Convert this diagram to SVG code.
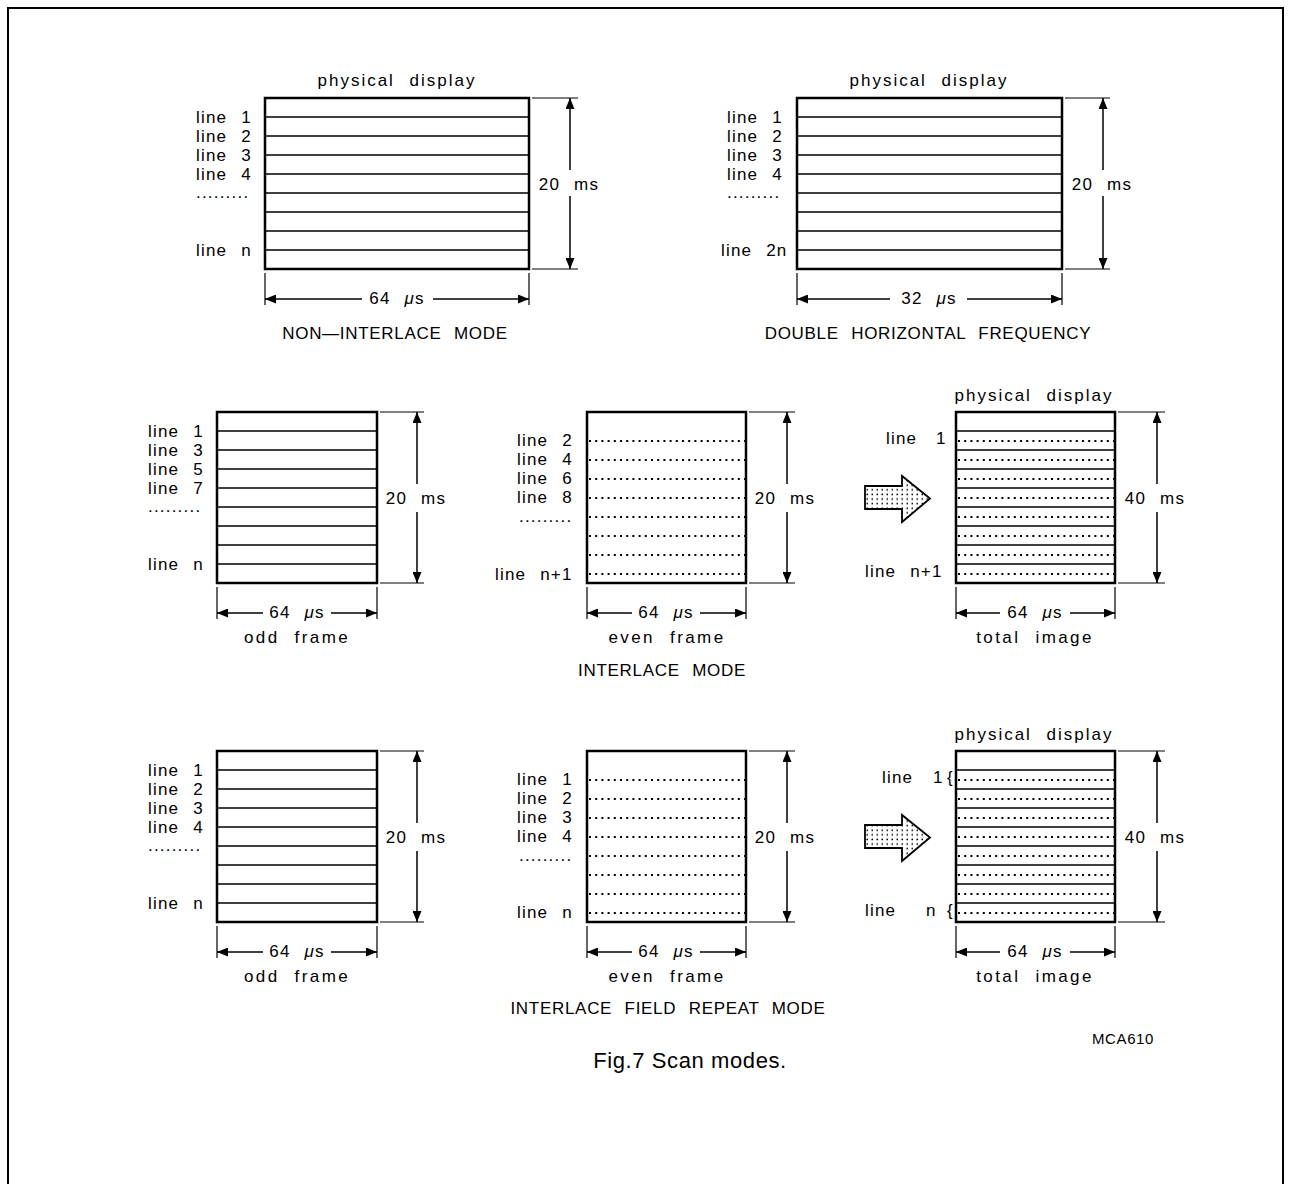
<svg xmlns="http://www.w3.org/2000/svg" width="1290" height="1184" viewBox="0 0 1290 1184">
<style>
text{font-family:"Liberation Sans",Arial,Helvetica,sans-serif;font-size:17px;letter-spacing:1.2px;word-spacing:8px;fill:#000}
.c{text-anchor:middle}
.ttl{letter-spacing:0.7px;word-spacing:7px}
.pd{letter-spacing:2px}
.fr{letter-spacing:2.4px}
.box{fill:none;stroke:#000;stroke-width:2.5}
.ln{stroke:#000;stroke-width:1.5;fill:none}
.dl{stroke:#000;stroke-width:2;stroke-dasharray:2 4.2;fill:none}
.ext{stroke:#000;stroke-width:1.2;fill:none}
.dim{stroke:#000;stroke-width:1.5;fill:none;marker-end:url(#ah)}
.big{fill:url(#dots);stroke:#000;stroke-width:1.8;stroke-linejoin:miter}
.mu{font-style:italic}
</style>
<defs>
<marker id="ah" markerUnits="userSpaceOnUse" markerWidth="11" markerHeight="9" refX="11" refY="4.5" orient="auto">
<path d="M0,0 L11,4.5 L0,9 z" fill="#000"/>
</marker>
<pattern id="dots" width="5" height="4.6" patternUnits="userSpaceOnUse">
<rect x="1.5" y="1.5" width="1.5" height="1.5" fill="#000"/>
</pattern>
</defs>
<rect width="1290" height="1184" fill="#fff"/>
<path d="M8,1184 V8 H1283 V1184" fill="none" stroke="#000" stroke-width="2"/>

<!-- Row 1: non-interlace -->
<g id="non-interlace">
<text class="c pd" x="397" y="86">physical display</text>
<rect class="box" x="265" y="98" width="264" height="171"/>
<path class="ln" d="M265,117H529M265,136H529M265,155H529M265,174H529M265,193H529M265,212H529M265,231H529M265,250H529"/>
<text x="196" y="123">line 1</text>
<text x="196" y="142">line 2</text>
<text x="196" y="161">line 3</text>
<text x="196" y="180">line 4</text>
<text x="196" y="198">.........</text>
<text x="196" y="256">line n</text>
<text class="c ttl" x="395" y="339">NON—INTERLACE MODE</text>
</g>

<g id="double-horizontal">
<text class="c pd" x="929" y="86">physical display</text>
<rect class="box" x="797" y="98" width="265" height="171"/>
<path class="ln" d="M797,117H1062M797,136H1062M797,155H1062M797,174H1062M797,193H1062M797,212H1062M797,231H1062M797,250H1062"/>
<text x="727" y="123">line 1</text>
<text x="727" y="142">line 2</text>
<text x="727" y="161">line 3</text>
<text x="727" y="180">line 4</text>
<text x="727" y="198">.........</text>
<text x="721" y="256">line 2n</text>
<text class="c ttl" x="928" y="339">DOUBLE HORIZONTAL FREQUENCY</text>
</g>

<!-- Row 2: interlace -->
<g id="interlace-odd">
<rect class="box" x="217" y="412" width="160" height="171"/>
<path class="ln" d="M217,431H377M217,450H377M217,469H377M217,488H377M217,507H377M217,526H377M217,545H377M217,564H377"/>
<text x="148" y="437">line 1</text>
<text x="148" y="456">line 3</text>
<text x="148" y="475">line 5</text>
<text x="148" y="494">line 7</text>
<text x="148" y="512">.........</text>
<text x="148" y="570">line n</text>
<text class="c fr" x="297" y="643">odd frame</text>
</g>

<g id="interlace-even">
<rect class="box" x="587" y="412" width="159" height="171"/>
<path class="dl" d="M589,441H745M589,460H745M589,479H745M589,498H745M589,517H745M589,536H745M589,555H745M589,574H745"/>
<text x="517" y="446">line 2</text>
<text x="517" y="465">line 4</text>
<text x="517" y="484">line 6</text>
<text x="517" y="503">line 8</text>
<text x="519" y="522">.........</text>
<text x="495" y="580">line n+1</text>
<text class="c fr" x="667" y="643">even frame</text>
<text class="c ttl" x="662" y="676">INTERLACE MODE</text>
</g>

<g id="interlace-total">
<text class="c pd" x="1034" y="401">physical display</text>
<rect class="box" x="956" y="412" width="159" height="171"/>
<path class="ln" d="M956,431H1115M956,450H1115M956,469H1115M956,488H1115M956,507H1115M956,526H1115M956,545H1115M956,564H1115"/>
<path class="dl" d="M958,441H1114M958,460H1114M958,479H1114M958,498H1114M958,517H1114M958,536H1114M958,555H1114M958,574H1114"/>
<text x="886" y="444">line <tspan x="936">1</tspan></text>
<text x="865" y="577">line n+1</text>
<text class="c fr" x="1035" y="643">total image</text>
</g>

<!-- Row 3: interlace field repeat -->
<g id="repeat-odd">
<rect class="box" x="217" y="751" width="160" height="171"/>
<path class="ln" d="M217,770H377M217,789H377M217,808H377M217,827H377M217,846H377M217,865H377M217,884H377M217,903H377"/>
<text x="148" y="776">line 1</text>
<text x="148" y="795">line 2</text>
<text x="148" y="814">line 3</text>
<text x="148" y="833">line 4</text>
<text x="148" y="851">.........</text>
<text x="148" y="909">line n</text>
<text class="c fr" x="297" y="982">odd frame</text>
</g>

<g id="repeat-even">
<rect class="box" x="587" y="751" width="159" height="171"/>
<path class="dl" d="M589,780H745M589,799H745M589,818H745M589,837H745M589,856H745M589,875H745M589,894H745M589,913H745"/>
<text x="517" y="785">line 1</text>
<text x="517" y="804">line 2</text>
<text x="517" y="823">line 3</text>
<text x="517" y="842">line 4</text>
<text x="519" y="861">.........</text>
<text x="517" y="918">line n</text>
<text class="c fr" x="667" y="982">even frame</text>
<text class="c ttl" x="668" y="1014">INTERLACE FIELD REPEAT MODE</text>
</g>

<g id="repeat-total">
<text class="c pd" x="1034" y="740">physical display</text>
<rect class="box" x="956" y="751" width="159" height="171"/>
<path class="ln" d="M956,770H1115M956,789H1115M956,808H1115M956,827H1115M956,846H1115M956,865H1115M956,884H1115M956,903H1115"/>
<path class="dl" d="M958,780H1114M958,799H1114M958,818H1114M958,837H1114M958,856H1114M958,875H1114M958,894H1114M958,913H1114"/>
<text x="882" y="783">line <tspan x="933">1</tspan><tspan x="947">{</tspan></text>
<text x="865" y="916">line <tspan x="926">n</tspan><tspan x="947">{</tspan></text>
<text class="c fr" x="1035" y="982">total image</text>
</g>

<!-- connectors: block arrows and dimension lines -->
<g id="connectors">
<polygon class="big" points="865,486 902,486 902,476 930,498.5 902,522 902,509 865,509"/>
<polygon class="big" points="865,825 902,825 902,815 930,837.5 902,861 902,848 865,848"/>

<!-- row 1 dims -->
<path class="ext" d="M532,98H578M532,269H578M265,273V305M529,273V305"/>
<path class="dim" d="M570,170V98"/><path class="dim" d="M570,196V269"/>
<path class="dim" d="M362,299H265"/><path class="dim" d="M433,299H529"/>
<text class="c" x="569" y="190">20 ms</text>
<text class="c" x="397" y="304">64 <tspan class="mu">μ</tspan>s</text>

<path class="ext" d="M1065,98H1110M1065,269H1110M797,273V305M1062,273V305"/>
<path class="dim" d="M1103,170V98"/><path class="dim" d="M1103,196V269"/>
<path class="dim" d="M890,299H797"/><path class="dim" d="M967,299H1062"/>
<text class="c" x="1102" y="190">20 ms</text>
<text class="c" x="929" y="304">32 <tspan class="mu">μ</tspan>s</text>

<!-- row 2 dims -->
<path class="ext" d="M380,412H424M380,583H424M217,587V619M377,587V619"/>
<path class="dim" d="M417,484V412"/><path class="dim" d="M417,512V583"/>
<path class="dim" d="M263,613H217"/><path class="dim" d="M331,613H377"/>
<text class="c" x="416" y="504">20 ms</text>
<text class="c" x="297" y="618">64 <tspan class="mu">μ</tspan>s</text>

<path class="ext" d="M749,412H795M749,583H795M587,587V619M746,587V619"/>
<path class="dim" d="M787,484V412"/><path class="dim" d="M787,512V583"/>
<path class="dim" d="M632,613H587"/><path class="dim" d="M700,613H746"/>
<text class="c" x="785" y="504">20 ms</text>
<text class="c" x="666" y="618">64 <tspan class="mu">μ</tspan>s</text>

<path class="ext" d="M1118,412H1165M1118,583H1165M956,587V619M1115,587V619"/>
<path class="dim" d="M1157,484V412"/><path class="dim" d="M1157,512V583"/>
<path class="dim" d="M1000,613H956"/><path class="dim" d="M1070,613H1115"/>
<text class="c" x="1155" y="504">40 ms</text>
<text class="c" x="1035" y="618">64 <tspan class="mu">μ</tspan>s</text>

<!-- row 3 dims -->
<path class="ext" d="M380,751H424M380,922H424M217,926V958M377,926V958"/>
<path class="dim" d="M417,823V751"/><path class="dim" d="M417,851V922"/>
<path class="dim" d="M263,952H217"/><path class="dim" d="M331,952H377"/>
<text class="c" x="416" y="843">20 ms</text>
<text class="c" x="297" y="957">64 <tspan class="mu">μ</tspan>s</text>

<path class="ext" d="M749,751H795M749,922H795M587,926V958M746,926V958"/>
<path class="dim" d="M787,823V751"/><path class="dim" d="M787,851V922"/>
<path class="dim" d="M632,952H587"/><path class="dim" d="M700,952H746"/>
<text class="c" x="785" y="843">20 ms</text>
<text class="c" x="666" y="957">64 <tspan class="mu">μ</tspan>s</text>

<path class="ext" d="M1118,751H1165M1118,922H1165M956,926V958M1115,926V958"/>
<path class="dim" d="M1157,823V751"/><path class="dim" d="M1157,851V922"/>
<path class="dim" d="M1000,952H956"/><path class="dim" d="M1070,952H1115"/>
<text class="c" x="1155" y="843">40 ms</text>
<text class="c" x="1035" y="957">64 <tspan class="mu">μ</tspan>s</text>
</g>

<text x="1092" y="1044" style="font-size:15px;letter-spacing:0.6px">MCA610</text>
<text class="c" x="690" y="1068" style="font-size:22px;letter-spacing:0.6px;word-spacing:0">Fig.7 Scan modes.</text>
</svg>
